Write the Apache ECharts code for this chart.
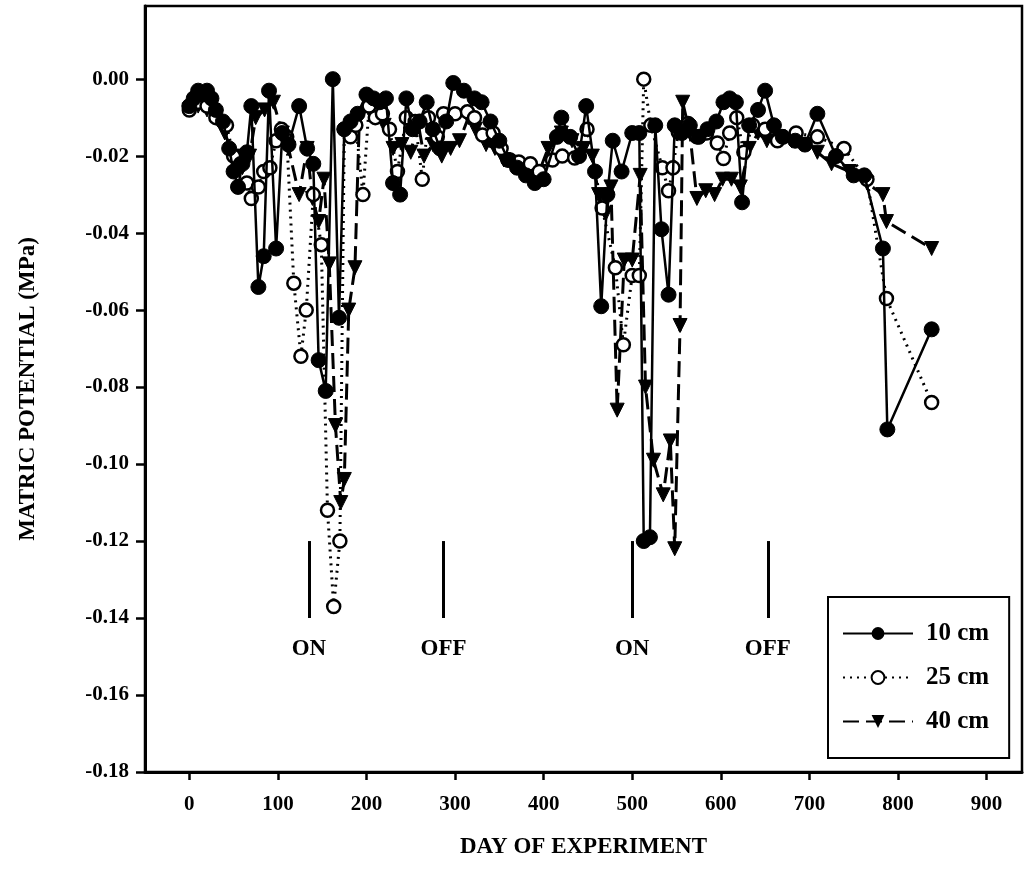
<!DOCTYPE html>
<html>
<head>
<meta charset="utf-8">
<script src="https://cdn.jsdelivr.net/npm/echarts@6/dist/echarts.min.js"></script>
<style>html,body{margin:0;padding:0;background:#fff;}#c{width:1026px;height:888px;}</style>
</head>
<body>
<div id="c"></div>
<script>
// ---- data ----
const days10 = [0,5,10,15,20,25,30,38,45,50,55,60,65,70,78,84,90,98,105,112,124,133,140,146,154,162,169,175,182,190,200,208,215,222,230,238,245,252,260,268,275,283,290,298,310,322,330,340,350,360,370,380,390,400,415,420,430,440,448,458,465,472,478,488,500,508,513,520,526,533,541,548,556,565,575,585,595,603,610,617,624,632,642,650,660,670,684,695,709,730,750,762,783,788,838];
const vals10 = [-0.007,-0.005,-0.003,-0.004,-0.003,-0.005,-0.008,-0.011,-0.018,-0.024,-0.028,-0.022,-0.019,-0.007,-0.054,-0.046,-0.003,-0.044,-0.014,-0.017,-0.007,-0.018,-0.022,-0.073,-0.081,0.000,-0.062,-0.013,-0.011,-0.009,-0.004,-0.005,-0.006,-0.005,-0.027,-0.030,-0.005,-0.013,-0.011,-0.006,-0.013,-0.018,-0.011,-0.001,-0.003,-0.005,-0.006,-0.011,-0.016,-0.021,-0.023,-0.025,-0.027,-0.026,-0.015,-0.010,-0.015,-0.020,-0.007,-0.024,-0.059,-0.030,-0.016,-0.024,-0.014,-0.014,-0.120,-0.119,-0.012,-0.039,-0.056,-0.012,-0.014,-0.012,-0.015,-0.013,-0.011,-0.006,-0.005,-0.006,-0.032,-0.012,-0.008,-0.003,-0.012,-0.015,-0.016,-0.017,-0.009,-0.020,-0.025,-0.025,-0.044,-0.091,-0.065];

const days25 = [0,10,20,30,42,50,58,65,70,78,84,91,98,104,110,118,126,132,140,149,156,163,170,175,182,188,196,203,210,218,226,235,245,255,263,270,280,287,300,314,322,331,343,352,362,372,385,395,410,421,435,449,466,481,490,500,508,513,521,534,541,546,552,563,573,584,596,603,610,618,626,636,650,664,685,709,739,765,787,838];
const vals25 = [-0.008,-0.006,-0.007,-0.010,-0.012,-0.020,-0.022,-0.027,-0.031,-0.028,-0.024,-0.023,-0.016,-0.013,-0.015,-0.053,-0.072,-0.060,-0.030,-0.043,-0.112,-0.137,-0.120,-0.013,-0.015,-0.012,-0.030,-0.007,-0.010,-0.009,-0.013,-0.024,-0.010,-0.011,-0.026,-0.010,-0.015,-0.009,-0.009,-0.0085,-0.010,-0.0145,-0.014,-0.018,-0.021,-0.0215,-0.022,-0.024,-0.021,-0.020,-0.0205,-0.013,-0.0335,-0.049,-0.069,-0.051,-0.051,0.000,-0.012,-0.023,-0.029,-0.023,-0.0138,-0.0115,-0.015,-0.014,-0.0166,-0.0206,-0.014,-0.010,-0.019,-0.012,-0.013,-0.016,-0.014,-0.015,-0.018,-0.026,-0.057,-0.084];

const days40 = [0,10,20,30,40,50,60,68,75,85,95,105,112,124,133,139,146,152,158,165,171,175,180,187,192,200,210,220,230,240,250,258,265,275,285,295,305,315,323,335,345,355,365,375,385,395,405,420,432,445,455,462,470,476,483,491,500,509,515,524,535,543,548,554,557,565,573,583,593,602,612,622,632,642,652,665,680,695,709,725,745,765,783,787,838];
const vals40 = [-0.008,-0.007,-0.008,-0.010,-0.014,-0.020,-0.023,-0.020,-0.010,-0.008,-0.006,-0.014,-0.018,-0.030,-0.018,-0.031,-0.037,-0.026,-0.048,-0.090,-0.110,-0.104,-0.060,-0.049,-0.010,-0.006,-0.010,-0.012,-0.018,-0.017,-0.019,-0.011,-0.020,-0.017,-0.020,-0.018,-0.016,-0.010,-0.013,-0.017,-0.018,-0.021,-0.022,-0.024,-0.025,-0.024,-0.018,-0.014,-0.016,-0.018,-0.020,-0.030,-0.035,-0.028,-0.086,-0.047,-0.047,-0.025,-0.080,-0.099,-0.108,-0.094,-0.122,-0.064,-0.006,-0.014,-0.031,-0.029,-0.030,-0.026,-0.026,-0.028,-0.018,-0.014,-0.016,-0.015,-0.016,-0.017,-0.019,-0.022,-0.024,-0.027,-0.030,-0.037,-0.044];

const xTicks = [0,100,200,300,400,500,600,700,800,900];
const yTicks = [0.00,-0.02,-0.04,-0.06,-0.08,-0.10,-0.12,-0.14,-0.16,-0.18];
const eventDays = [135,287,500,653];
const eventLabels = ['ON','OFF','ON','OFF'];
const eventTop = -0.12, eventBottom = -0.14, eventLabelY = -0.148;
const seriesNames = ['10 cm','25 cm','40 cm'];

// ---- chart ----
const FONT = '"Liberation Serif", "DejaVu Serif", serif';
const zip = (a,b)=>a.map((d,i)=>[d,b[i]]);
const chart = echarts.init(document.getElementById('c'));
chart.setOption({
  animation:false,
  backgroundColor:'#fff',
  grid:{left:145,right:4,top:6,bottom:116,show:true,borderColor:'#000',borderWidth:2.5},
  xAxis:{
    type:'value',min:-50,max:940,
    name:'DAY OF EXPERIMENT',nameLocation:'middle',nameGap:64,
    nameTextStyle:{fontFamily:FONT,fontWeight:'bold',fontSize:23,color:'#000'},
    axisLine:{show:true,onZero:false,lineStyle:{color:'#000',width:3}},
    axisTick:{show:true,length:8,lineStyle:{color:'#000',width:2.5},customValues:xTicks},
    axisLabel:{fontFamily:FONT,fontWeight:'bold',fontSize:21,color:'#000',margin:22,customValues:xTicks,formatter:v=>String(v)},
    splitLine:{show:false}
  },
  yAxis:{
    type:'value',min:-0.18,max:0.019,
    name:'MATRIC POTENTIAL (MPa)',nameLocation:'middle',nameGap:105,nameRotate:90,
    nameTextStyle:{fontFamily:FONT,fontWeight:'bold',fontSize:23,color:'#000'},
    axisLine:{show:true,onZero:false,lineStyle:{color:'#000',width:3}},
    axisTick:{show:true,length:9,lineStyle:{color:'#000',width:2.5},customValues:yTicks},
    axisLabel:{fontFamily:FONT,fontWeight:'bold',fontSize:21,color:'#000',margin:16,customValues:yTicks,formatter:v=>{const s=Math.abs(v).toFixed(2);return (v< -0.0001?'-':'')+s;}},
    splitLine:{show:false}
  },
  legend:{
    orient:'vertical',left:828,top:597,
    padding:[24,20,24,14],itemGap:19,itemWidth:70,itemHeight:16,
    borderColor:'#000',borderWidth:2,backgroundColor:'#fff',
    textStyle:{fontFamily:FONT,fontWeight:'bold',fontSize:25,color:'#000',padding:[0,0,0,8]},
    data:seriesNames
  },
  series:[
    {
      name:seriesNames[2],type:'line',data:zip(days40,vals40),
      symbol:'triangle',symbolRotate:180,symbolSize:14,
      lineStyle:{color:'#000',width:3,type:[16,7]},
      itemStyle:{color:'#000',borderColor:'#000'},z:2
    },
    {
      name:seriesNames[1],type:'line',data:zip(days25,vals25),
      symbol:'circle',symbolSize:13,
      lineStyle:{color:'#000',width:3,type:[2,5]},
      itemStyle:{color:'#fff',borderColor:'#000',borderWidth:2.5},z:3
    },
    {
      name:seriesNames[0],type:'line',data:zip(days10,vals10),
      symbol:'circle',symbolSize:15,
      lineStyle:{color:'#000',width:2.5,type:'solid'},
      itemStyle:{color:'#000',borderColor:'#000'},z:4
    },
    {
      name:'events',type:'scatter',
      data:eventDays.map((d,i)=>({value:[d,eventLabelY],label:{formatter:eventLabels[i]}})),
      symbolSize:0,itemStyle:{color:'#000',opacity:1},
      label:{show:true,position:'inside',fontFamily:FONT,fontWeight:'bold',fontSize:23,color:'#000',opacity:1},
      emphasis:{disabled:true},
      markLine:{
        silent:true,symbol:['none','none'],label:{show:false},
        lineStyle:{color:'#000',width:3,type:'solid'},
        data:eventDays.map(d=>[{coord:[d,eventTop]},{coord:[d,eventBottom]}])
      },z:1
    }
  ]
});
</script>
</body>
</html>
